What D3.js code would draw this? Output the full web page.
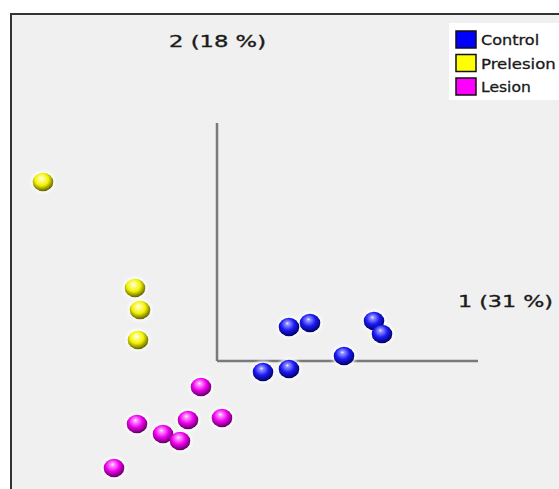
<!DOCTYPE html>
<html>
<head>
<meta charset="utf-8">
<script src="https://cdn.jsdelivr.net/npm/d3@7"></script>
<style>
  body { margin: 0; background: #fff; }
</style>
</head>
<body>
<script>
var width = 559;
var height = 489;

// groups and legend labels
var groups = ["Control", "Prelesion", "Lesion"];
var groupColors = ["#0000ff", "#ffff00", "#ff00ff"];
var axisLabels = ["1 (31 %)", "2 (18 %)"];

// PCA scores (component 1, component 2)
var controlPC1 = [7.2, 9.3, 15.7, 16.5, 12.7, 4.6, 7.2];
var controlPC2 = [3.4, 3.8, 4.0, 2.7, 0.5, -1.1, -0.8];
var prelesionPC1 = [-17.4, -8.2, -7.7, -7.9];
var prelesionPC2 = [17.9, 7.3, 5.1, 2.1];
var lesionPC1 = [-1.6, -8.0, -5.4, -3.7, -2.9, 0.5, -10.3];
var lesionPC2 = [-2.6, -6.3, -7.3, -8.0, -5.9, -5.7, -10.7];

// lengths of the drawn component axes
var axisLen1 = 26.1;
var axisLen2 = 23.8;

var points = [];
[[controlPC1, controlPC2], [prelesionPC1, prelesionPC2], [lesionPC1, lesionPC2]].forEach(function(s, gi) {
  s[0].forEach(function(v, i) {
    points.push({ g: gi, x: v, y: s[1][i] });
  });
});

var svg = d3.select("body")
  .append("svg")
  .attr("width", width)
  .attr("height", height);

var x = d3.scaleLinear().domain([-20.6, 34.2]).range([11, 559]);
var y = d3.scaleLinear().domain([-12.8, 34.7]).range([489, 14]);

var defs = svg.append("defs");
var shades = [
  ["#9a9aff", "#1a1af5", "#000060"],
  ["#ffffb0", "#f2f200", "#5e5e00"],
  ["#ffa0ff", "#f000f0", "#5e005e"]
];
shades.forEach(function(c, i) {
  var gr = defs.append("radialGradient")
    .attr("id", "ball" + i)
    .attr("cx", "45%").attr("cy", "40%")
    .attr("fx", "42%").attr("fy", "30%")
    .attr("r", "60%");
  gr.append("stop").attr("offset", "0%").attr("stop-color", "#ffffff");
  gr.append("stop").attr("offset", "12%").attr("stop-color", c[0]);
  gr.append("stop").attr("offset", "55%").attr("stop-color", c[1]);
  gr.append("stop").attr("offset", "100%").attr("stop-color", c[2]);
});
defs.append("filter").attr("id", "glow")
  .append("feGaussianBlur").attr("stdDeviation", 1.5);

// panel
svg.append("rect")
  .attr("x", 11).attr("y", 14)
  .attr("width", width).attr("height", height)
  .attr("fill", "#f0f0f0")
  .attr("stroke", "#333")
  .attr("stroke-width", 2);

// component axes
var axes = svg.append("g")
  .attr("stroke", "#7a7a7a")
  .attr("stroke-width", 2.5)
  .attr("fill", "none");
axes.append("line")
  .attr("x1", x(0)).attr("y1", y(0))
  .attr("x2", x(axisLen1)).attr("y2", y(0));
axes.append("line")
  .attr("x1", x(0)).attr("y1", y(0))
  .attr("x2", x(0)).attr("y2", y(axisLen2));

svg.append("text")
  .attr("x", 458).attr("y", 307)
  .attr("font-family", "DejaVu Sans, Verdana, sans-serif")
  .attr("font-size", "16px")
  .attr("fill", "#1a1a1a")
  .attr("stroke", "#1a1a1a")
  .attr("stroke-width", 0.35)
  .attr("textLength", 95)
  .attr("lengthAdjust", "spacingAndGlyphs")
  .text(axisLabels[0]);

svg.append("text")
  .attr("x", 169).attr("y", 47)
  .attr("font-family", "DejaVu Sans, Verdana, sans-serif")
  .attr("font-size", "16px")
  .attr("fill", "#1a1a1a")
  .attr("stroke", "#1a1a1a")
  .attr("stroke-width", 0.35)
  .attr("textLength", 97)
  .attr("lengthAdjust", "spacingAndGlyphs")
  .text(axisLabels[1]);

// balls
var balls = svg.append("g");
balls.selectAll(".halo")
  .data(points)
  .enter()
  .append("ellipse")
  .attr("class", "halo")
  .attr("cx", function(d) { return x(d.x); })
  .attr("cy", function(d) { return y(d.y); })
  .attr("rx", 12).attr("ry", 11)
  .attr("fill", "#ffffff")
  .attr("opacity", 0.9)
  .attr("filter", "url(#glow)");
balls.selectAll(".ball")
  .data(points)
  .enter()
  .append("ellipse")
  .attr("class", "ball")
  .attr("cx", function(d) { return x(d.x); })
  .attr("cy", function(d) { return y(d.y); })
  .attr("rx", 10.3).attr("ry", 9.3)
  .attr("fill", function(d) { return "url(#ball" + d.g + ")"; });

// legend
var legend = svg.append("g");
legend.append("rect")
  .attr("x", 449).attr("y", 23)
  .attr("width", 110).attr("height", 77)
  .attr("fill", "#ffffff");
var item = legend.selectAll(".item")
  .data(groups)
  .enter()
  .append("g")
  .attr("transform", function(d, i) { return "translate(456," + (31 + i * 23.5) + ")"; });
item.append("rect")
  .attr("width", 20).attr("height", 17)
  .attr("fill", function(d, i) { return groupColors[i]; })
  .attr("stroke", "#111")
  .attr("stroke-width", 1.5);
item.append("text")
  .attr("x", 25).attr("y", 14)
  .attr("font-family", "DejaVu Sans, Verdana, sans-serif")
  .attr("font-size", "14px")
  .attr("fill", "#1a1a1a")
  .attr("stroke", "#1a1a1a")
  .attr("stroke-width", 0.3)
  .attr("textLength", function(d) { return d.length * 8.3; })
  .attr("lengthAdjust", "spacingAndGlyphs")
  .text(function(d) { return d; });
</script>
</body>
</html>
